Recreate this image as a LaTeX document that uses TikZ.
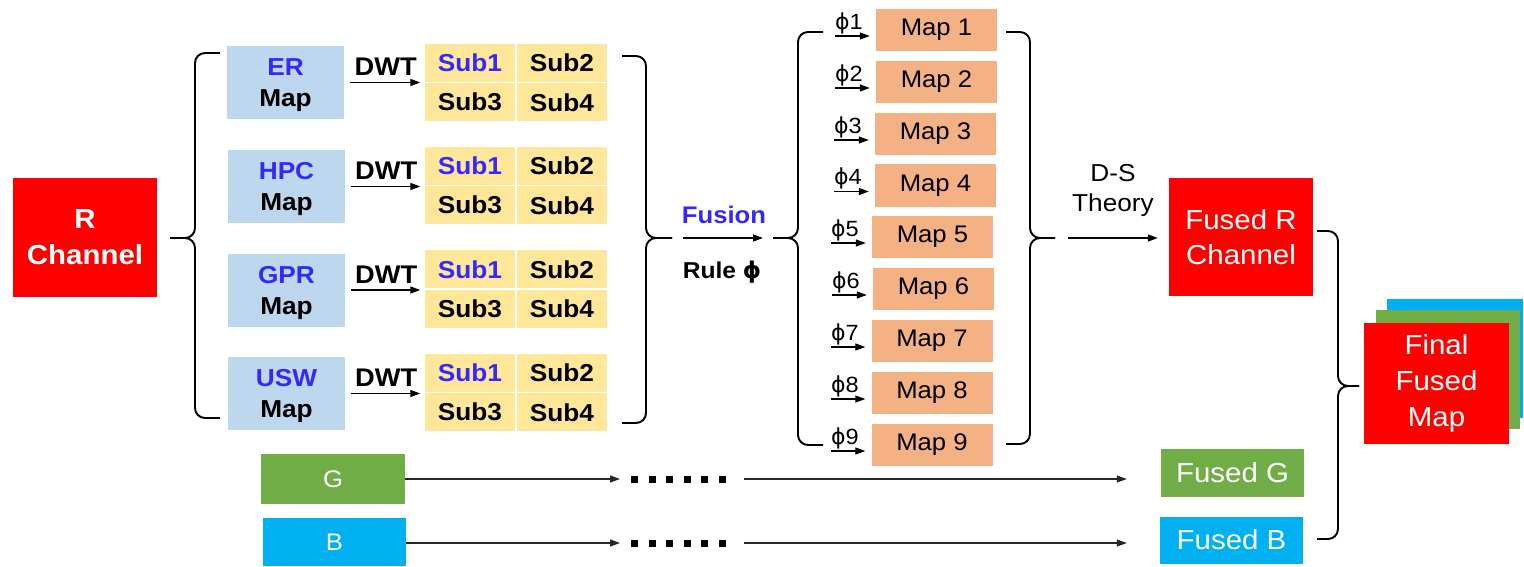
\documentclass[tikz,border=0pt]{standalone}
\usepackage{fontspec}
\setmainfont[FakeStretch=1.07]{Liberation Sans}
\newfontfamily\phifont{DejaVu Sans}
\usetikzlibrary{arrows.meta,calc}
\definecolor{rred}{RGB}{255,0,0}
\definecolor{lblue}{RGB}{189,215,238}
\definecolor{subyel}{RGB}{255,230,153}
\definecolor{maporange}{RGB}{244,177,131}
\definecolor{ggreen}{RGB}{112,173,71}
\definecolor{bblue}{RGB}{0,176,240}
\definecolor{txtblue}{RGB}{51,40,255}
\newcommand{\myphi}{{\phifont ϕ}}
\tikzset{
  srcbox/.style={fill=lblue, minimum width=117pt, minimum height=73pt, inner sep=0pt,
    align=center, text depth=0pt, font=\fontsize{24.5}{31}\selectfont\bfseries},
  subcell/.style={fill=subyel, draw=white, line width=1.5pt, minimum width=92pt,
    minimum height=39.5pt, inner sep=0pt, font=\fontsize{24.5}{26}\selectfont\bfseries},
  mapbox/.style={fill=maporange, minimum width=121pt, minimum height=42pt, inner sep=0pt,
    font=\fontsize{24}{26}\selectfont},
  arr/.style={-{Triangle[length=10pt,width=7pt]}, line width=1.4pt},
  thinarr/.style={-{Triangle[length=10pt,width=7pt]}, line width=1.2pt, draw=black!85},
  brace/.style={line width=1.9pt, rounded corners=10pt},
  whitetxt/.style={text=white, inner sep=0pt, align=center},
  lbl/.style={inner sep=1pt, font=\fontsize{24}{26}\selectfont\bfseries},
  philbl/.style={inner sep=0pt, anchor=south west, font=\fontsize{22}{24}\selectfont},
  dotline/.style={line width=7pt, dash pattern=on 7pt off 10.6pt},
}
\begin{document}
\begin{tikzpicture}[x=1pt,y=-1pt]
\useasboundingbox (0,0) rectangle (1524,567);

% R channel
\node[fill=rred, minimum width=144pt, minimum height=119pt, whitetxt,
  font=\fontsize{27.5}{36}\selectfont\bfseries] (R) at (85,237.5) {R\\Channel};

% brace 1
\draw[brace] (220,53) -- (195,53) -- (195,238) -- (170,238);
\draw[brace] (220,418) -- (195,418) -- (195,238) -- (170,238);

% source maps
\node[srcbox] (er)  at (285.5,82.5) {\textcolor{txtblue}{ER}\\Map};
\node[srcbox] (hpc) at (286.5,186.5) {\textcolor{txtblue}{HPC}\\Map};
\node[srcbox] (gpr) at (286.5,290) {\textcolor{txtblue}{GPR}\\Map};
\node[srcbox] (usw) at (286.5,393.5) {\textcolor{txtblue}{USW}\\Map};

% sub-band grids
\foreach \n/\t in {er/43, hpc/146, gpr/249.5, usw/353}{
  \node[subcell, text=txtblue] (\n1) at (470,\t+19.75) {Sub1};
  \node[subcell] (\n2) at (562,\t+19.75) {Sub2};
  \node[subcell] (\n3) at (470,\t+59.25) {Sub3};
  \node[subcell] (\n4) at (562,\t+59.25) {Sub4};
  \draw[arr, shorten <=6pt, shorten >=3pt] (\n.east) -- (\n.east -| \n1.south west)
    node[midway, xshift=2pt, above=5pt, lbl, font=\fontsize{25.5}{26}\selectfont\bfseries] {DWT};
}

% brace 2
\draw[brace] (622,56) -- (646,56) -- (646,238) -- (672,238);
\draw[brace] (622,423) -- (646,423) -- (646,238) -- (672,238);

% fusion arrow
\coordinate (fa) at (683,238);
\coordinate (fb) at (763,238);
\draw[arr] (fa) -- (fb);
\node[lbl, text=txtblue] (fusion) at (724,215) {Fusion};
\node[lbl, font=\fontsize{23}{24}\selectfont\bfseries] (rule) at (722,272) {Rule {\phifont\bfseries ϕ}};

% brace 3
\draw[brace] (823,32) -- (798,32) -- (798,238) -- (773,238);
\draw[brace] (823,445) -- (798,445) -- (798,238) -- (773,238);

% maps
\foreach \i/\x/\y/\s in {1/936.5/30/835, 2/936.5/82/835, 3/935.5/134/834, 4/935.5/185.5/834,
  5/932.5/237/831, 6/933.5/289/832, 7/932/341/831, 8/932/393/831, 9/932/445/831}{
  \node[mapbox] (m\i) at (\x,\y) {Map \i};
  \coordinate (p\i) at (\s,\y+6);
  \draw[arr, line width=1.2pt, shorten >=6pt] (p\i) -- (p\i -| m\i.west);
  \node[philbl] (phi\i) at ([yshift=2pt]p\i) {\myphi\i};
}

% brace 4
\draw[brace] (1006,32) -- (1030,32) -- (1030,238) -- (1055,238);
\draw[brace] (1006,444) -- (1030,444) -- (1030,238) -- (1055,238);

% fused R
\node[fill=rred, minimum width=144pt, minimum height=118pt, whitetxt,
  font=\fontsize{27.5}{35}\selectfont] (fr) at (1241,237) {Fused R\\Channel};
\coordinate (ds) at (1068,238);
\draw[arr, shorten >=11pt] (ds) -- (ds -| fr.west);
\node[align=center, inner sep=0pt, font=\fontsize{24.5}{30}\selectfont] (dst) at (1113,190) {D-S\\Theory};

% brace 5
\draw[brace] (1317,231) -- (1338,231) -- (1338,386) -- (1359,386);
\draw[brace] (1317,539) -- (1338,539) -- (1338,386) -- (1359,386);

% final stack
\fill[bblue] (1387,299) rectangle (1523,418);
\fill[ggreen] (1376,310) rectangle (1520,429);
\node[fill=rred, minimum width=145pt, minimum height=121pt, whitetxt,
  font=\fontsize{27.5}{36}\selectfont] (final) at (1436.5,383.5) {Final\\Fused\\Map};

% G and B channels
\node[fill=ggreen, minimum width=144pt, minimum height=50pt, whitetxt,
  font=\fontsize{24}{28}\selectfont] (G) at (333,479) {G};
\node[fill=bblue, minimum width=143pt, minimum height=48pt, whitetxt,
  font=\fontsize{24}{28}\selectfont] (B) at (334.5,542) {B};
\node[fill=ggreen, minimum width=143pt, minimum height=48pt, whitetxt,
  font=\fontsize{27.5}{30}\selectfont] (fg) at (1232.5,473) {Fused G};
\node[fill=bblue, minimum width=143pt, minimum height=47pt, whitetxt,
  font=\fontsize{27.5}{30}\selectfont] (fb2) at (1231.5,540) {Fused B};

\coordinate (g1) at (620,479); \coordinate (gd1) at (631,479);
\coordinate (gd2) at (726,479); \coordinate (g2) at (744,479);
\coordinate (b1) at (620,543); \coordinate (bd1) at (631,543);
\coordinate (bd2) at (726,543); \coordinate (b2) at (744,543);
\draw[thinarr] (G.east |- g1) -- (g1);
\draw[dotline] (gd1) -- (gd2);
\draw[thinarr, shorten >=34pt] (g2) -- (g2 -| fg.west);
\draw[thinarr] (B.east |- b1) -- (b1);
\draw[dotline] (bd1) -- (bd2);
\draw[thinarr, shorten >=33pt] (b2) -- (b2 -| fb2.west);
\end{tikzpicture}
\end{document}
